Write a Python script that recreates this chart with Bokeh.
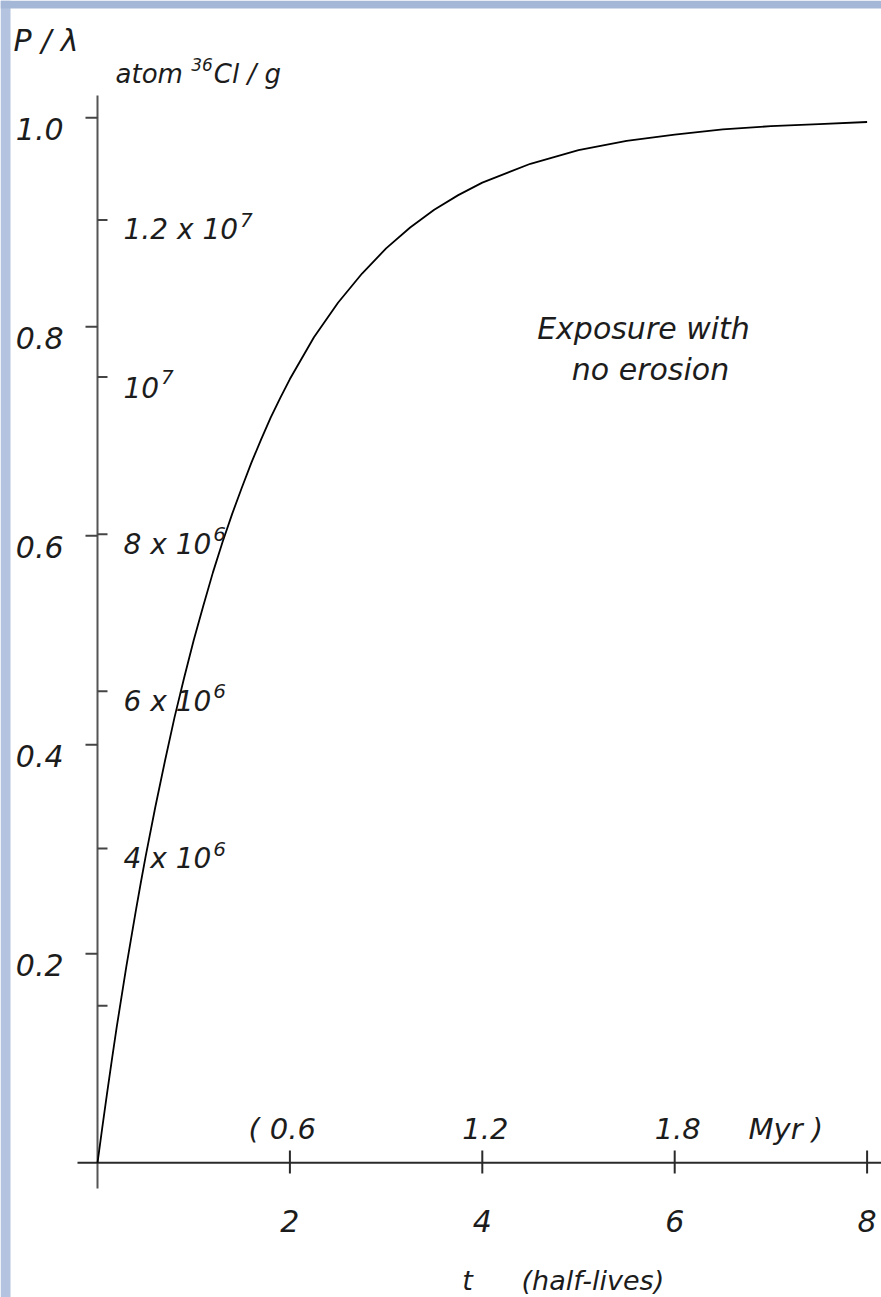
from bokeh.plotting import figure
from bokeh.models import Range1d
from bokeh.core.properties import value
from bokeh.embed import file_html
from bokeh.resources import INLINE

# ---------------- data ----------------
t_half_lives = [0, 0.05, 0.1, 0.15, 0.2, 0.25, 0.3, 0.35, 0.4, 0.45, 0.5, 0.6, 0.7, 0.8, 0.9,
                1.0, 1.1, 1.2, 1.3, 1.4, 1.5, 1.6, 1.7, 1.8, 1.9, 2.0, 2.25, 2.5, 2.75, 3.0,
                3.25, 3.5, 3.75, 4.0, 4.5, 5.0, 5.5, 6.0, 6.5, 7.0, 7.5, 8.0]
p_over_lambda = [0.0, 0.034, 0.067, 0.099, 0.13, 0.159, 0.188, 0.215, 0.242, 0.268, 0.293, 0.34,
                 0.384, 0.426, 0.464, 0.50, 0.533, 0.565, 0.594, 0.621, 0.646, 0.67, 0.692,
                 0.713, 0.732, 0.75, 0.79, 0.823, 0.851, 0.875, 0.895, 0.912, 0.926, 0.938,
                 0.956, 0.969, 0.978, 0.984, 0.989, 0.992, 0.994, 0.996]

y_ticks = [0.2, 0.4, 0.6, 0.8, 1.0]
y_tick_labels = ["0.2", "0.4", "0.6", "0.8", "1.0"]

x_ticks = [2, 4, 6, 8]
x_tick_labels = ["2", "4", "6", "8"]

myr_tick_positions = [2, 4, 6]          # in half-lives
myr_tick_labels = ["0.6", "1.2", "1.8"]

atom_ticks = [2e6, 4e6, 6e6, 8e6, 1e7, 1.2e7]
atom_labels = ["", "4 x 10", "6 x 10", "8 x 10", "10", "1.2 x 10"]
atom_exponents = ["", "6", "6", "6", "7", "7"]
N_SAT = 1.33e7                           # atoms 36Cl / g at P/lambda = 1

# ---------------- layout ----------------
W, H = 881, 1297
PAGE_X0, PAGE_Y0 = 97.0, 1162.3          # axis origin in pixels
PX_T, PX_Y = 96.2, 1045.0                # pixels per unit

def tx(px):
    return (px - PAGE_X0) / PX_T

def vy(py):
    return (PAGE_Y0 - py) / PX_Y

FONT = value("DejaVu Sans")
INK = "#1c1c1c"

# DejaVu Sans advance widths (em)
ADV = {**{d: 0.636 for d in "0123456789"}, ".": 0.318, " ": 0.318, "x": 0.592,
       "a": 0.613, "t": 0.392, "o": 0.612, "m": 0.974, "C": 0.698, "l": 0.278,
       "/": 0.337, "g": 0.635, "(": 0.390, ")": 0.390}

def width(s, size):
    return sum(ADV.get(c, 0.6) for c in s) * size

p = figure(width=W, height=H, output_backend="svg", toolbar_location=None,
           x_axis_type=None, y_axis_type=None, min_border=0,
           x_range=Range1d(tx(0), tx(W)), y_range=Range1d(vy(H), vy(0)))
p.grid.visible = False
p.outline_line_color = None
p.background_fill_color = "white"
p.border_fill_color = "white"

# frame decoration (blue strips at top and left)
p.quad(left=[tx(0)], right=[tx(10)], bottom=[vy(H)], top=[vy(0)],
       fill_color="#b4c4e0", line_color=None)
p.quad(left=[tx(0)], right=[tx(W)], bottom=[vy(8)], top=[vy(0)],
       fill_color="#a5b7d6", line_color=None)

# axes lines
p.segment(x0=[0], y0=[vy(1188)], x1=[0], y1=[vy(95)], line_color="#555555", line_width=2)
p.segment(x0=[tx(77)], y0=[0], x1=[tx(W + 4)], y1=[0], line_color="#2a2a2a", line_width=2)

# left (P/lambda) ticks
p.segment(x0=[tx(85)] * len(y_ticks), y0=y_ticks, x1=[0] * len(y_ticks), y1=y_ticks,
          line_color="#444444", line_width=2)
# right (atoms) ticks
atom_y = [a / N_SAT for a in atom_ticks]
p.segment(x0=[0] * len(atom_y), y0=atom_y, x1=[tx(107)] * len(atom_y), y1=atom_y,
          line_color="#444444", line_width=2)
# x ticks (crossing)
p.segment(x0=x_ticks, y0=[vy(1173)] * len(x_ticks), x1=x_ticks, y1=[vy(1150)] * len(x_ticks),
          line_color="#2a2a2a", line_width=2)

# curve
p.line(t_half_lives, p_over_lambda, line_color="black", line_width=1.8)

# left tick labels
p.text(x=[0] * len(y_ticks), y=y_ticks, text=y_tick_labels, x_offset=-34, y_offset=11,
       text_align="right", text_baseline="alphabetic", text_font=FONT,
       text_font_style="italic", text_font_size="30px", text_color=INK)

# atom labels with superscripts
AS, SS = 28, 20
p.text(x=[0] * len(atom_y), y=atom_y, text=atom_labels, x_offset=26, y_offset=10,
       text_align="left", text_baseline="alphabetic", text_font=FONT,
       text_font_style="italic", text_font_size=f"{AS}px", text_color=INK)
for yy, lab, ex in zip(atom_y, atom_labels, atom_exponents):
    if ex:
        p.text(x=[0], y=[yy], text=[ex], x_offset=26 + width(lab, AS) + 2, y_offset=0,
               text_align="left", text_baseline="alphabetic", text_font=FONT,
               text_font_style="italic", text_font_size=f"{SS}px", text_color=INK)

# bottom x labels
p.text(x=x_ticks, y=[0] * len(x_ticks), text=x_tick_labels, y_offset=1220 - PAGE_Y0,
       text_align="center", text_baseline="alphabetic", text_font=FONT,
       text_font_style="italic", text_font_size="30px", text_color=INK)

# upper Myr labels
p.text(x=myr_tick_positions, y=[0] * len(myr_tick_positions), text=myr_tick_labels,
       x_offset=3, y_offset=1128 - PAGE_Y0, text_align="center", text_baseline="alphabetic",
       text_font=FONT, text_font_style="italic", text_font_size="29px", text_color=INK)
p.text(x=[tx(248)], y=[vy(1128)], text=["("], text_align="left", text_baseline="alphabetic",
       text_font=FONT, text_font_style="italic", text_font_size="29px", text_color=INK)
p.text(x=[tx(748)], y=[vy(1128)], text=["Myr )"], text_align="left", text_baseline="alphabetic",
       text_font=FONT, text_font_style="italic", text_font_size="29px", text_color=INK)

# x title
p.text(x=[tx(467)], y=[vy(1280)], text=["t"], text_align="center", text_baseline="alphabetic",
       text_font=FONT, text_font_style="italic", text_font_size="27px", text_color=INK)
p.text(x=[tx(521)], y=[vy(1280)], text=["(half-lives)"], text_align="left",
       text_baseline="alphabetic", text_font=FONT, text_font_style="italic",
       text_font_size="27px", text_color=INK)

# y titles
p.text(x=[tx(13)], y=[vy(40)], text=["P / λ"], text_align="left", text_baseline="alphabetic",
       text_font=FONT, text_font_style="italic", text_font_size="30px", text_color=INK)
TS, TSS = 26, 17
atom_word = "atom "
p.text(x=[tx(115)], y=[vy(73)], text=[atom_word], text_align="left", text_baseline="alphabetic",
       text_font=FONT, text_font_style="italic", text_font_size=f"{TS}px", text_color=INK)
sup_off = width(atom_word, TS)
p.text(x=[tx(115)], y=[vy(73)], text=["36"], x_offset=sup_off, y_offset=-9,
       text_align="left", text_baseline="alphabetic", text_font=FONT,
       text_font_style="italic", text_font_size=f"{TSS}px", text_color=INK)
p.text(x=[tx(115)], y=[vy(73)], text=["Cl / g"], x_offset=sup_off + width("36", TSS) + 1,
       text_align="left", text_baseline="alphabetic", text_font=FONT,
       text_font_style="italic", text_font_size=f"{TS}px", text_color=INK)

# annotation
p.text(x=[tx(643), tx(650)], y=[vy(328), vy(369)], text=["Exposure with", "no erosion"],
       text_align="center", text_baseline="alphabetic", text_font=FONT,
       text_font_style="italic", text_font_size="30px", text_color=INK)

open("out.html", "w").write(file_html(p, INLINE))
